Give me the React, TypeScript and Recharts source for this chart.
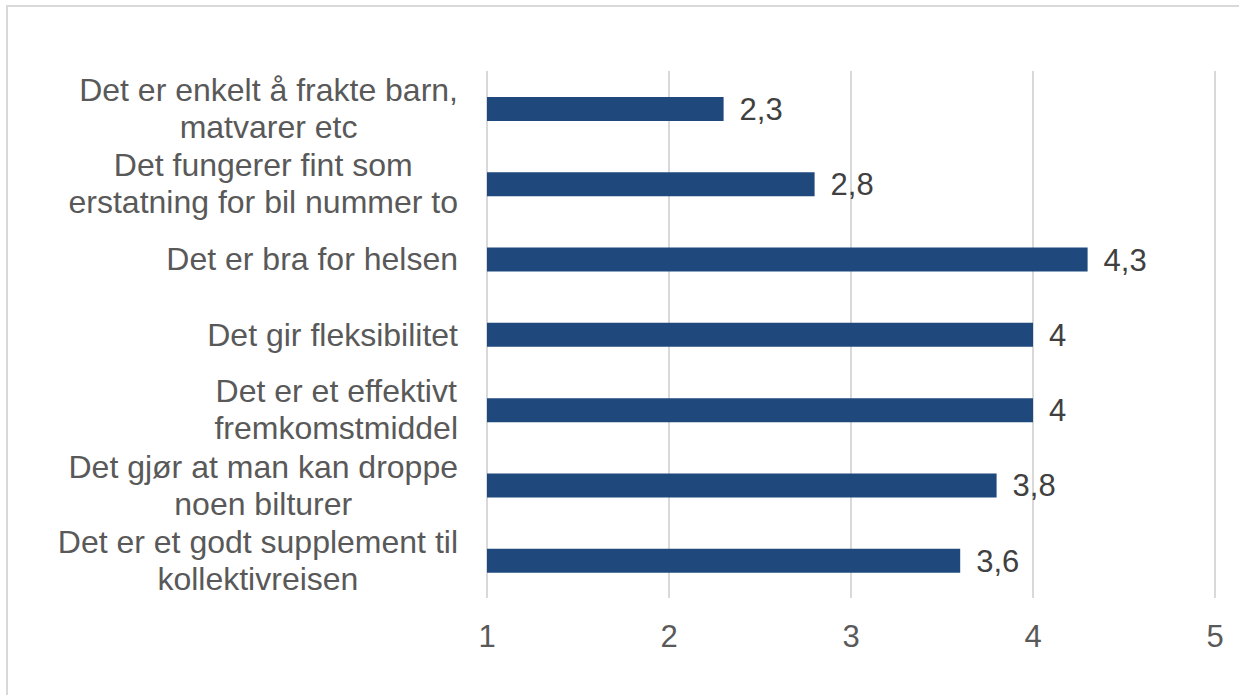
import React from 'react';
import { BarChart, Bar, XAxis, YAxis, CartesianGrid, LabelList } from 'recharts';

const categories = [
  'Det er enkelt å frakte barn,|matvarer etc',
  'Det fungerer fint som|erstatning for bil nummer to',
  'Det er bra for helsen',
  'Det gir fleksibilitet',
  'Det er et effektivt|fremkomstmiddel',
  'Det gjør at man kan droppe|noen bilturer',
  'Det er et godt supplement til|kollektivreisen',
];
const scores = [2.3, 2.8, 4.3, 4, 4, 3.8, 3.6];
const xTicks = [1, 2, 3, 4, 5];

const FONT = "'Liberation Sans', Arial, sans-serif";
const FONT_SIZE = 31;
const CAT_SIZE = 32;
const LINE_GAP = 37;

const data = categories.map((name, i) => ({ name, value: scores[i] }));

let ctx: CanvasRenderingContext2D | null = null;
function textWidth(s: string) {
  if (!ctx) {
    ctx = document.createElement('canvas').getContext('2d');
  }
  if (!ctx) return s.length * CAT_SIZE * 0.5;
  ctx.font = `${CAT_SIZE}px ${FONT}`;
  return ctx.measureText(s).width;
}

// wrapped category label, block centred and right edge on the tick position
function CategoryTick(props: any) {
  const { x, y, payload } = props;
  const lines: string[] = String(payload.value).split('|');
  const maxW = Math.max(...lines.map(textWidth));
  const cx = x - maxW / 2;
  const capHalf = 11;
  const first = y - ((lines.length - 1) * LINE_GAP) / 2 + capHalf;
  return (
    <g>
      {lines.map((l, i) => (
        <text
          key={i}
          x={lines.length > 1 ? cx : x}
          y={first + i * LINE_GAP}
          textAnchor={lines.length > 1 ? 'middle' : 'end'}
          fill="#595959"
          fontSize={CAT_SIZE}
          fontFamily={FONT}
        >
          {l}
        </text>
      ))}
    </g>
  );
}

const fmt = (v: any) => String(v).replace('.', ',');

export default function App() {
  return (
    <div style={{ position: 'fixed', left: 0, top: 0, width: 1239, height: 695, overflow: 'hidden', background: '#fff' }}>
      <div
        style={{
          position: 'absolute',
          left: 6,
          top: 5,
          width: 1300,
          height: 800,
          borderTop: '2px solid #d9d9d9',
          borderLeft: '2px solid #d9d9d9',
        }}
      />
      <div style={{ position: 'absolute', left: 0, top: 0 }}>
        <BarChart
          width={1239}
          height={695}
          data={data}
          layout="vertical"
          margin={{ top: 71, right: 24, bottom: 0, left: 0 }}
        >
          <CartesianGrid horizontal={false} stroke="#d9d9d9" strokeWidth={2} />
          <XAxis
            type="number"
            domain={[1, 5]}
            ticks={xTicks}
            allowDataOverflow
            axisLine={false}
            tickLine={false}
            tickSize={0}
            tickMargin={27}
            height={97}
            tick={{ fill: '#595959', fontSize: FONT_SIZE, fontFamily: FONT }}
          />
          <YAxis
            type="category"
            dataKey="name"
            width={487}
            axisLine={false}
            tickLine={false}
            tickSize={0}
            tickMargin={29}
            interval={0}
            tick={<CategoryTick />}
          />
          <Bar dataKey="value" fill="#1f497d" barSize={24} isAnimationActive={false}>
            <LabelList
              dataKey="value"
              position="right"
              offset={16}
              formatter={fmt}
              fill="#404040"
              fontSize={FONT_SIZE}
              fontFamily={FONT}
            />
          </Bar>
        </BarChart>
      </div>
    </div>
  );
}
